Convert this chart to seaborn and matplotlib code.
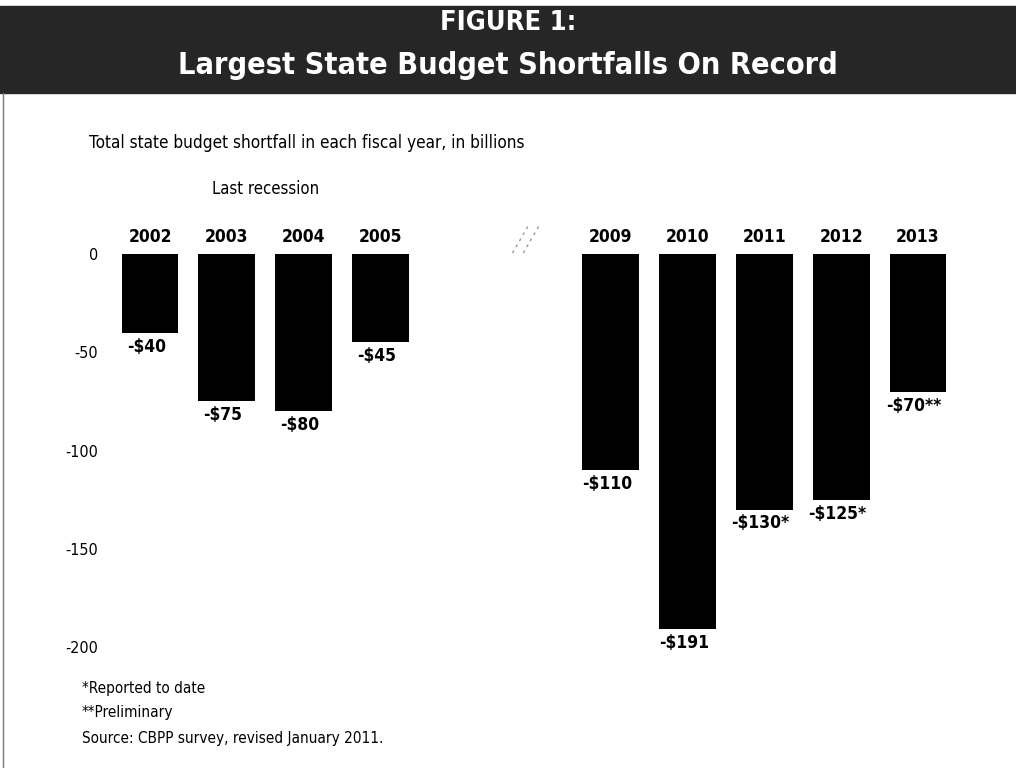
import numpy as np
import pandas as pd
import matplotlib
matplotlib.use("Agg")
import matplotlib.pyplot as plt
from matplotlib import font_manager
import seaborn as sns

# ---- data ----
years = ["2002", "2003", "2004", "2005", "2009", "2010", "2011", "2012", "2013"]
shortfalls = [-40, -75, -80, -45, -110, -191, -130, -125, -70]
value_labels = ["-$40", "-$75", "-$80", "-$45", "-$110", "-$191", "-$130*", "-$125*", "-$70**"]
order = ["2002", "2003", "2004", "2005", "gap1", "gap2", "2009", "2010", "2011", "2012", "2013"]
yticks = [0, -50, -100, -150, -200]
title_top = "FIGURE 1:"
title_main = "Largest State Budget Shortfalls On Record"
subtitle = "Total state budget shortfall in each fiscal year, in billions"
group_label = "Last recession"
notes = ["*Reported to date", "**Preliminary", "Source: CBPP survey, revised January 2011."]

sns.set_theme(style="white")
names = {f.name for f in font_manager.fontManager.ttflist}
cond = "Liberation Sans Narrow" if "Liberation Sans Narrow" in names else "DejaVu Sans"
plt.rcParams["font.family"] = [cond, "DejaVu Sans"]
plt.rcParams["font.stretch"] = "condensed"

W, H = 1016, 768
fig = plt.figure(figsize=(W / 100, H / 100), dpi=100)

def fx(px):
    return px / W

def fy(py):
    return 1 - py / H

# banner
fig.patches.append(plt.Rectangle((0, fy(93)), 1, 87 / H, transform=fig.transFigure,
                                 color="#262626", zorder=0))
fig.text(0.5, fy(23), title_top, color="white", fontsize=19.5, fontweight="bold",
         ha="center", va="center")
fig.text(0.5, fy(66), title_main, color="white", fontsize=22, fontweight="bold",
         ha="center", va="center")
# left border line
fig.add_artist(plt.Line2D([fx(3), fx(3)], [0, fy(93)], transform=fig.transFigure,
                          color="#777777", lw=1))

fig.text(fx(89), fy(143), subtitle, fontsize=12.3, ha="left", va="center", color="black")

# axes
ax_l, ax_r, ax_t, ax_b = 105, 1000, 254, 657
ax = fig.add_axes([fx(ax_l), fy(ax_b), (ax_r - ax_l) / W, (ax_b - ax_t) / H])
df = pd.DataFrame({"year": years, "value": shortfalls})
sns.barplot(data=df, x="year", y="value", order=order, color="black", width=0.74,
            saturation=1, ax=ax)
for p in ax.patches:
    p.set_linewidth(0)

slot = 76.8
x0 = 150
ax.set_xlim((ax_l - x0) / slot, (ax_r - x0) / slot)
ax.set_ylim(-205, 0)
ax.set_yticks(yticks)
ax.set_yticklabels([str(t) for t in yticks], fontsize=11.5, color="black")
ax.set_xticks([])
ax.set_xlabel("")
ax.set_ylabel("")
ax.tick_params(axis="y", length=0, pad=5)
for s in ax.spines.values():
    s.set_visible(False)
ax.patch.set_alpha(0)

pos = [order.index(y) for y in years]
for xp, y, v, lab in zip(pos, years, shortfalls, value_labels):
    ax.text(xp, 4, y, ha="center", va="bottom", fontsize=12.5, fontweight="bold",
            color="black", clip_on=False)
    ax.text(xp - 0.05, v - 2.5, lab, ha="center", va="top", fontsize=12.5,
            fontweight="bold", color="black", clip_on=False)

ax.text((pos[1] + pos[2]) / 2, 33, group_label, ha="center", va="center", fontsize=12,
        clip_on=False, color="black")

# break marks
for dx in (0, 0.14):
    ax.plot([4.72 + dx, 4.92 + dx], [0.5, 14], color="#999999", lw=1, ls=(0, (2, 3)),
            clip_on=False)

for i, n in enumerate(notes):
    fig.text(fx(82), fy(688 + 25 * i), n, fontsize=11, ha="left", va="center",
             color="black")

fig.savefig("out.png", dpi=100)
